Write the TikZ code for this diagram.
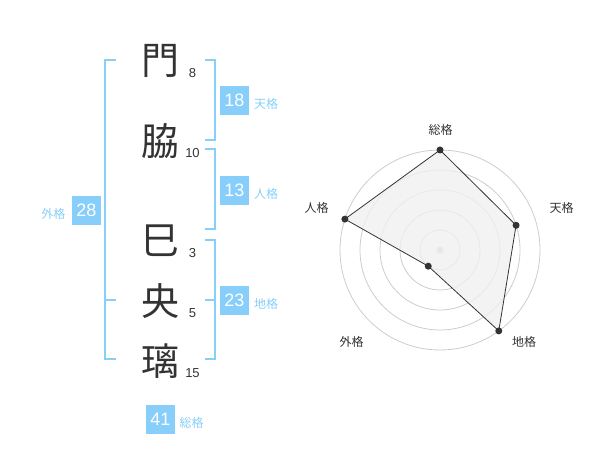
\documentclass[tikz,border=0pt]{standalone}
\usepackage{fontspec}
\setmainfont{Liberation Sans}
\newfontfamily\jpfont{Noto Sans CJK JP}
\usepackage{xcolor}
\usetikzlibrary{calc}
\definecolor{kakublue}{HTML}{87CEFA}
\definecolor{inkgray}{HTML}{333333}
\definecolor{ringgray}{HTML}{CCCCCC}
\definecolor{fillgray}{HTML}{F0F0F0}

\begin{document}
\begin{tikzpicture}[x=1pt,y=-1pt,
    kanji/.style={font=\jpfont\fontsize{38}{38}\selectfont, text=inkgray, inner sep=0pt},
    strokes/.style={font=\fontsize{13}{13}\selectfont, text=inkgray, inner sep=0pt},
    scorebox/.style={fill=kakublue, text=white, minimum size=29pt, inner sep=0pt,
        font=\fontsize{18}{18}\selectfont},
    kakulabel/.style={font=\jpfont\fontsize{12}{12}\selectfont, text=kakublue, inner sep=0pt},
    bracket/.style={draw=kakublue, line width=2pt},
    radarlabel/.style={font=\jpfont\fontsize{12}{12}\selectfont, text=inkgray, inner sep=0pt},
    radardot/.style={circle, fill=inkgray, inner sep=0pt, minimum size=7pt}]
                \useasboundingbox (0,0) rectangle (600,470);

                % Drawing name characters and stroke counts
                \node [kanji] (mon) at (160,61) {門};
                \node [strokes] (nmon) at (192.5,73) {8};
                \node [kanji] (waki) at (160,141) {脇};
                \node [strokes] (nwaki) at (192.5,153) {10};
                \node [kanji] (mi) at (160,241) {巳};
                \node [strokes] (nmi) at (192.5,253) {3};
                \node [kanji] (ou) at (160,301) {央};
                \node [strokes] (nou) at (192.5,313) {5};
                \node [kanji] (ri) at (160,361) {璃};
                \node [strokes] (nri) at (192.5,373) {15};

                % Drawing brackets
                \draw [bracket] (116,60) -- (105,60) -- (105,359.5) -- (116,359.5);%
                \draw [bracket] (105,300) -- (116,300);%
                \draw [bracket] (205,60) -- (214.5,60) -- (214.5,140) -- (205,140);%
                \draw [bracket] (205,149.5) -- (214.5,149.5) -- (214.5,229.5) -- (205,229.5);%
                \draw [bracket] (205,240) -- (214.5,240) -- (214.5,359.5) -- (205,359.5);%
                \draw [bracket] (205,300) -- (214.5,300);%

                % Drawing scores
                \node [scorebox] (ten) at (234.5,100.5) {18};
                \node [kakulabel] (lten) at (266,104) {天格};
                \node [scorebox] (jin) at (234.5,190.5) {13};
                \node [kakulabel] (ljin) at (266,194) {人格};
                \node [scorebox] (gai) at (86.5,210.5) {28};
                \node [kakulabel] (lgai) at (53.5,214) {外格};
                \node [scorebox] (chi) at (234.5,300.5) {23};
                \node [kakulabel] (lchi) at (266,304) {地格};
                \node [scorebox] (sou) at (160.5,419.5) {41};
                \node [kakulabel] (lsou) at (191.5,423) {総格};

                % Drawing radar chart
                \begin{scope}[shift={(440,250)}, yscale=-1]
                \foreach \r in {20,40,60,80,100}
                    \draw [ringgray, line width=0.8pt] (0,0) circle (\r);
                \fill [ringgray] (0,0) circle (3.5);
                \coordinate (psou) at (90:100);
                \coordinate (pten) at (18:80);
                \coordinate (pchi) at (-54:100);
                \coordinate (pgai) at (234:20);
                \coordinate (pjin) at (162:100);
                \filldraw [fill=fillgray, fill opacity=0.8, draw=inkgray, line width=0.8pt]
                    (psou) -- (pten) -- (pchi) -- (pgai) -- (pjin) -- cycle;
                \foreach \p in {psou,pten,pchi,pgai,pjin}
                    \node [radardot] at (\p) {};
                \node [radarlabel] (rsou) at (0.5,120) {総格};
                \node [radarlabel] (rten) at (121.5,42) {天格};
                \node [radarlabel] (rchi) at (84,-91.5) {地格};
                \node [radarlabel] (rgai) at (-88.5,-91.5) {外格};
                \node [radarlabel] (rjin) at (-123.5,42) {人格};
                \end{scope}
            \end{tikzpicture}
\end{document}
